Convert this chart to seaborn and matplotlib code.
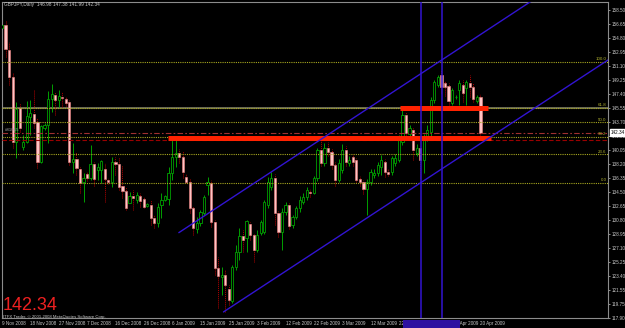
import numpy as np
import pandas as pd
import matplotlib
matplotlib.use("Agg")
import matplotlib.pyplot as plt
import matplotlib.transforms as mtransforms
from matplotlib.patches import Rectangle
import seaborn as sns

# ---------------- data ----------------
opens = [156.13,156.53,153.23,149.67,141.10,145.59,140.45,141.10,144.40,144.79,
         143.74,138.47,142.95,143.35,146.77,147.30,146.64,147.04,146.77,146.38,
         138.47,138.86,137.55,135.83,136.89,136.36,138.20,137.41,137.41,137.55,
         136.10,135.83,138.47,138.20,135.31,134.65,133.06,133.99,133.46,133.99,
         133.59,132.67,132.80,131.09,130.43,132.80,133.46,133.59,137.02,139.13,
         139.65,139.13,136.49,135.83,132.41,129.64,130.43,131.75,135.44,135.70,
         130.56,124.50,123.31,123.58,121.73,120.15,124.63,126.61,128.72,128.45,
         130.30,128.85,126.87,129.11,129.24,132.80,135.17,136.36,131.75,129.24,
         131.88,132.80,130.17,131.22,132.41,133.20,133.86,134.51,134.38,136.36,
         140.05,138.34,140.31,139.79,138.07,136.10,137.41,140.05,138.34,139.13,
         138.73,136.23,135.83,134.91,135.83,136.76,137.02,137.81,138.47,137.15,
         137.15,138.34,138.73,141.10,144.66,142.16,142.69,139.65,140.31,138.73,
         141.63,142.42,146.64,148.62,149.94,148.88,148.49,146.25,146.97,147.96,
         148.62,148.22,148.88,148.35,146.51,146.98]
highs = [156.70,157.05,154.28,150.20,146.38,146.25,142.03,146.51,146.64,147.96,
         144.27,143.35,143.61,147.83,148.75,147.69,147.96,147.69,147.04,146.64,
         140.97,139.79,137.81,137.02,137.20,140.71,138.47,138.34,138.73,138.34,
         136.40,139.13,139.13,139.13,138.07,135.17,134.51,134.78,134.51,134.38,
         133.86,133.06,133.46,131.48,133.06,134.38,134.12,137.81,141.37,141.37,
         140.18,139.92,136.89,136.36,132.60,131.22,132.20,134.10,136.49,136.10,
         130.82,125.95,124.63,124.23,122.26,124.89,127.53,129.77,129.51,130.82,
         130.56,129.00,129.50,130.80,133.46,136.49,137.15,136.90,132.00,132.41,
         133.20,133.00,131.48,132.60,134.00,134.38,135.20,134.90,136.60,140.31,
         141.37,141.00,141.10,140.20,138.40,138.80,140.80,140.60,139.20,139.50,
         139.00,136.60,136.10,136.20,137.50,137.60,138.40,139.40,138.90,137.50,
         139.30,139.50,142.00,145.30,145.10,143.40,143.10,140.80,140.60,142.20,
         143.40,147.00,149.30,149.90,150.60,149.10,148.90,148.20,147.30,149.30,
         149.30,149.30,149.90,148.90,147.30,147.38]
lows = [155.90,152.30,148.62,140.31,139.00,142.42,140.05,140.97,142.03,142.95,
        137.68,138.34,142.69,140.97,145.00,144.66,145.72,145.72,145.90,138.07,
        137.02,136.76,134.38,133.20,136.00,136.10,135.31,136.10,135.70,133.20,
        135.50,135.17,136.76,134.78,133.72,132.14,133.00,132.14,133.06,132.54,
        132.41,132.54,130.17,129.77,129.90,131.09,133.30,132.80,136.10,137.81,
        138.34,136.36,135.70,131.75,128.85,129.11,130.00,131.50,134.12,129.90,
        123.58,119.23,120.94,118.70,119.62,119.90,124.23,125.55,126.61,126.61,
        128.19,125.30,126.60,128.90,129.00,132.41,134.78,130.17,128.60,126.87,
        131.48,129.60,129.80,130.90,131.90,132.90,133.40,133.90,134.20,136.00,
        137.90,138.00,139.20,137.60,135.31,135.80,137.00,138.00,137.90,138.00,
        135.80,135.30,134.30,131.48,135.40,136.30,136.60,136.76,136.49,136.60,
        136.80,138.00,138.50,140.71,141.76,141.60,138.73,139.20,136.36,137.02,
        141.20,141.80,146.30,148.30,147.60,147.20,145.98,145.98,146.80,146.00,
        146.40,146.00,147.04,146.38,146.30,141.99]
closes = [156.53,153.36,149.67,141.10,145.45,142.95,141.10,144.53,144.93,143.61,
          138.47,143.21,143.35,146.77,147.43,146.64,147.17,146.90,146.25,138.47,
          138.86,137.68,135.70,136.36,136.36,138.20,136.23,137.81,138.60,136.23,
          135.83,138.47,138.20,135.17,134.65,132.41,133.99,133.72,134.12,133.33,
          132.54,132.93,131.09,130.43,132.54,133.46,133.99,137.02,139.13,139.65,
          139.13,137.15,135.83,132.41,129.77,130.43,131.88,133.86,135.83,130.56,
          124.50,123.44,123.58,122.26,120.28,124.63,126.61,128.72,128.19,130.69,
          128.85,126.87,128.85,130.56,133.20,135.83,136.36,131.75,129.24,131.88,
          132.80,130.00,131.22,132.41,133.46,133.86,134.78,134.38,136.36,140.05,
          138.34,140.31,139.79,138.07,136.10,138.34,140.05,138.47,138.73,138.47,
          136.10,135.83,134.91,135.83,137.15,137.02,138.07,138.73,137.15,136.89,
          139.00,139.00,141.37,144.66,142.29,142.95,140.05,140.31,138.73,141.76,
          142.69,146.64,149.02,149.67,148.35,148.35,146.51,147.96,147.04,148.88,
          147.57,149.02,148.35,146.77,147.04,142.34]

date_pos = [0, 8, 16, 24, 32, 40, 48, 56, 64, 72, 80, 88, 96, 104, 112, 120, 128, 135]
date_labels = ["9 Nov 2008", "18 Nov 2008", "27 Nov 2008", "7 Dec 2008", "16 Dec 2008",
               "26 Dec 2008", "6 Jan 2009", "15 Jan 2009", "25 Jan 2009", "3 Feb 2009",
               "12 Feb 2009", "22 Feb 2009", "3 Mar 2009", "12 Mar 2009", "22 Mar 2009",
               "31 Mar 2009", "9 Apr 2009", "20 Apr 2009"]
price_ticks = [117.90, 119.75, 121.55, 123.40, 125.25, 127.10, 128.95, 130.80, 132.65,
               134.50, 136.35, 138.20, 140.05, 141.85, 143.70, 145.55, 147.40, 149.25,
               151.10, 152.95, 154.80, 156.65, 158.50]
fib_levels = [151.65, 145.56, 143.68, 141.79, 139.46, 135.70]
fib_labels = ["100.0", "61.8", "50.0", "38.2", "23.6", "0.0"]
channel_x = [49.9, 171.3]
channel_upper = [129.15, 166.4]
channel_lower_x = [62.5, 171.3]
channel_lower = [118.7, 152.0]
vline_bars = [118.3, 124.2]
zone_upper = (112.4, 137.2, 145.52)
zone_lower = (46.8, 138.0, 141.57)
red_line_2 = 141.36

# ---------------- style ----------------
sns.set_theme(style="dark", rc={"axes.facecolor": "black", "figure.facecolor": "black",
                                "axes.grid": False})
plt.rcParams["font.family"] = ["Liberation Sans", "DejaVu Sans"]

fig = plt.figure(figsize=(6.25, 3.28), dpi=100, facecolor="black")
ax = fig.add_axes([2 / 625, 10 / 328, 606 / 625, 316.5 / 328])
ax.set_facecolor("black")

df = pd.DataFrame({"idx": np.arange(len(opens)), "open": opens, "high": highs,
                   "low": lows, "close": closes})
df["bottom"] = df[["open", "close"]].min(axis=1)
df["body"] = (df["close"] - df["open"]).abs().clip(lower=0.07)
bull = df[df["close"] >= df["open"]]
bear = df[df["close"] < df["open"]]

ax.vlines(bull["idx"], bull["low"], bull["high"], color="#00a000", lw=0.7, zorder=2)
ax.vlines(bear["idx"], bear["low"], bear["high"], color="#b00000", lw=0.7,
          linestyles=(0, (1, 1)), zorder=2)
ax.bar(bull["idx"], bull["body"], bottom=bull["bottom"], width=0.62,
       facecolor="black", edgecolor="#00a000", lw=0.6, zorder=3)
ax.bar(bear["idx"], bear["body"], bottom=bear["bottom"], width=0.62,
       facecolor="#ffc4c4", edgecolor="#f08080", lw=0.4, zorder=3)

# horizontal reference lines
ax.axhline(fib_levels[1], color="#74745e", lw=1.3, zorder=1.5)
for lv, lb in zip(fib_levels, fib_labels):
    ax.axhline(lv, color="#a8a820", lw=0.8, ls=(0, (1, 1)), zorder=4)
    ax.text(170.6, lv + 0.12, lb, color="#b0b030", fontsize=3.2, ha="right",
            va="bottom", zorder=6)
ax.axhline(closes[-1], color="#a03030", lw=0.8, ls=(0, (5, 2, 1.5, 2)), zorder=4)
ax.axhline(red_line_2, color="#9a0000", lw=0.8, ls=(0, (4, 2)), zorder=4)
ax.text(0.8, closes[-1] + 0.1, "#81015", color="#a0a0a0", fontsize=3.2,
        va="bottom", ha="left", zorder=6)

# thick red zones
ax.hlines(zone_upper[2], zone_upper[0], zone_upper[1], color="#ff2200", lw=3.6, zorder=5)
ax.hlines(zone_lower[2], zone_lower[0], zone_lower[1], color="#ff2200", lw=3.6, zorder=5)

# channel + vertical lines
blue = "#3214d2"
sns.lineplot(x=channel_x, y=channel_upper, ax=ax, color=blue, lw=1.0, zorder=6,
             legend=False)
sns.lineplot(x=channel_lower_x, y=channel_lower, ax=ax, color=blue, lw=1.0, zorder=6,
             legend=False)
for vb in vline_bars:
    ax.axvline(vb, color=blue, lw=1.1, zorder=6)

ax.set_xlim(0.28, 171.0)
ax.set_ylim(117.91, 159.62)

# axes cosmetics
for s in ax.spines.values():
    s.set_color("#8c8c8c")
    s.set_linewidth(0.8)
ax.yaxis.tick_right()
ax.set_yticks(price_ticks)
ax.set_yticklabels([f"{p:.2f}" for p in price_ticks])
ax.set_xticks(date_pos)
ax.set_xticklabels(date_labels, ha="left")
ax.tick_params(axis="y", colors="#c8c8c8", labelsize=3.3, length=1.5, width=0.5, pad=1.2)
ax.tick_params(axis="x", colors="#c8c8c8", labelsize=3.3, length=1.5, width=0.5, pad=1.0)
ax.set_xlabel("")
ax.set_ylabel("")

# current price box on axis
trans = mtransforms.blended_transform_factory(ax.transAxes, ax.transData)
ax.text(1.004, closes[-1], f"{closes[-1]:.2f}", transform=trans, fontsize=3.3,
        color="black", va="center", ha="left", clip_on=False, zorder=10,
        bbox=dict(facecolor="white", edgecolor="white", pad=0.5))

# texts
fig.text(4 / 625, 1 - 6 / 328, "GBPJPY,Daily  146.98 147.38 141.99 142.34",
         fontsize=3.4, color="#c8c8c8", va="baseline")
fig.text(3 / 625, 17.6 / 328, "142.34", fontsize=13, color="#ee2020", va="baseline")
fig.text(3 / 625, 10.4 / 328, "ITFX Trader, \u00a9 2001-2008 MetaQuotes Software Corp.",
         fontsize=3.1, color="#c8c8c8", va="baseline")

fig.add_artist(Rectangle((403 / 625, 0), 57 / 625, 8.5 / 328, transform=fig.transFigure,
                         facecolor="#2c10a0", edgecolor="none", zorder=10))

fig.savefig("out.png", dpi=100, facecolor="black")
